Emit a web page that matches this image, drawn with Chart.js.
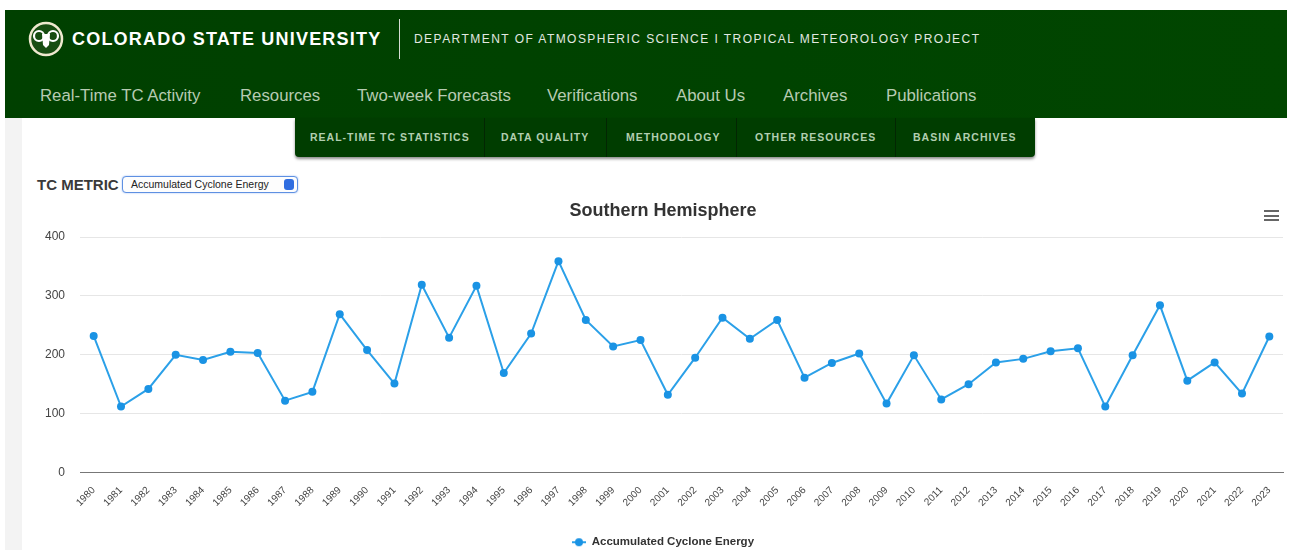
<!DOCTYPE html>
<html>
<head>
<meta charset="utf-8">
<script src="https://cdn.jsdelivr.net/npm/chart.js@4.4.0/dist/chart.umd.min.js"></script>
<style>
  body { margin: 0; width: 1292px; height: 550px; overflow: hidden; background: #fff; position: relative;
         font-family: "Liberation Sans", Arial, Helvetica, sans-serif; }
  .abs { position: absolute; white-space: nowrap; }
  #header { left: 5px; top: 10px; width: 1282px; height: 108px;
            background: linear-gradient(90deg, #004000 0%, #004300 60%, #014600 100%); }
  #strip { left: 5px; top: 118px; width: 17px; height: 432px; background: #f3f3f3; }
  .brand { left: 72px; top: 29px; font-size: 18px; line-height: 20px; font-weight: bold; color: #fff; letter-spacing: 1.2px; }
  .divider { left: 399px; top: 19px; width: 1px; height: 40px; background: #d5ddd3; }
  .dept { left: 414px; top: 32px; font-size: 12px; line-height: 14px; color: #e2e8e0; letter-spacing: 1.45px; }
  .nav { top: 86px; font-size: 16.8px; line-height: 20px; color: #b7cbb2; }
  #subnav { left: 295px; top: 118px; width: 740px; height: 39px; background: #003d00;
            border-radius: 0 0 4px 4px; box-shadow: 0 2px 3px rgba(0,0,0,0.45); }
  .sub { top: 131px; font-size: 10.5px; line-height: 13px; font-weight: bold; color: #b2ceb0; letter-spacing: 1px; }
  .sep { top: 118px; width: 1px; height: 39px; background: #022602; }
  .metric { left: 37px; top: 176px; font-size: 15px; line-height: 17px; font-weight: bold; color: #3a3a3a; }
  .select { left: 122px; top: 176px; width: 174px; height: 15px; border: 1px solid #5e90e2; border-radius: 4px;
            box-shadow: 0 0 2px #9bbcf2; background: #fdfdfd; font-size: 10.5px; line-height: 15px; color: #222; }
  .select span.txt { position: absolute; left: 8px; top: 0; }
  .select span.btn { position: absolute; right: 3px; top: 2px; width: 10px; height: 11px; border-radius: 3px; background: #2f6de0; }
  .burger { left: 1264px; top: 210px; width: 15px; }
  .burger div { height: 2px; background: #666; margin-bottom: 2.5px; }
  #wrap { left: 43px; top: 196px; width: 1247px; height: 365px; }
</style>
</head>
<body>
<div id="header" class="abs"></div>
<div id="strip" class="abs"></div>
<svg class="abs" style="left:28px;top:21px" width="36" height="36" viewBox="0 0 36 36">
  <circle cx="18" cy="18" r="16" fill="#174d12" stroke="#efe9cf" stroke-width="2.5"/>
  <circle cx="11" cy="15" r="5" fill="none" stroke="#fff" stroke-width="2.2"/>
  <circle cx="25" cy="15" r="5" fill="none" stroke="#fff" stroke-width="2.2"/>
  <path d="M14 13 L22 13 L21 24 L18 27 L15 24 Z" fill="#fff"/>
</svg>
<div class="abs brand">COLORADO STATE UNIVERSITY</div>
<div class="abs divider"></div>
<div class="abs dept">DEPARTMENT OF ATMOSPHERIC SCIENCE I TROPICAL METEOROLOGY PROJECT</div>
<div class="abs nav" style="left:40px">Real-Time TC Activity</div>
<div class="abs nav" style="left:240px">Resources</div>
<div class="abs nav" style="left:357px">Two-week Forecasts</div>
<div class="abs nav" style="left:547px">Verifications</div>
<div class="abs nav" style="left:676px">About Us</div>
<div class="abs nav" style="left:783px">Archives</div>
<div class="abs nav" style="left:886px">Publications</div>
<div id="subnav" class="abs"></div>
<div class="abs sep" style="left:484px"></div>
<div class="abs sep" style="left:606px"></div>
<div class="abs sep" style="left:736px"></div>
<div class="abs sep" style="left:895px"></div>
<div class="abs sub" style="left:310px">REAL-TIME TC STATISTICS</div>
<div class="abs sub" style="left:501px">DATA QUALITY</div>
<div class="abs sub" style="left:626px">METHODOLOGY</div>
<div class="abs sub" style="left:755px">OTHER RESOURCES</div>
<div class="abs sub" style="left:913px">BASIN ARCHIVES</div>
<div class="abs metric">TC METRIC</div>
<div class="abs select"><span class="txt">Accumulated Cyclone Energy</span><span class="btn"></span></div>
<div class="abs burger"><div></div><div></div><div></div></div>
<div id="wrap" class="abs"><canvas id="chart" width="1247" height="365"></canvas></div>

<script>
const years = ['1980', '1981', '1982', '1983', '1984', '1985', '1986', '1987', '1988', '1989',
               '1990', '1991', '1992', '1993', '1994', '1995', '1996', '1997', '1998', '1999',
               '2000', '2001', '2002', '2003', '2004', '2005', '2006', '2007', '2008', '2009',
               '2010', '2011', '2012', '2013', '2014', '2015', '2016', '2017', '2018', '2019',
               '2020', '2021', '2022', '2023'];
const aceValues = [232, 112, 142, 200, 191, 205, 203, 122, 137, 269,
                   208, 151, 319, 229, 317, 169, 236, 359, 259, 214,
                   225, 132, 195, 263, 227, 259, 161, 186, 202, 117,
                   199, 124, 150, 187, 193, 206, 211, 112, 199, 284,
                   156, 187, 134, 231];
const yTicks = [0, 100, 200, 300, 400];
const seriesName = 'Accumulated Cyclone Energy';
const chartTitle = 'Southern Hemisphere';

const lineColor = '#2ba0e8';
const dotColor = '#1a93e4';

// legend symbol: short line with a dot, like the original
const legendIcon = document.createElement('canvas');
legendIcon.width = 14;
legendIcon.height = 10;
const lc = legendIcon.getContext('2d');
lc.strokeStyle = lineColor;
lc.lineWidth = 2;
lc.beginPath(); lc.moveTo(0, 5); lc.lineTo(14, 5); lc.stroke();
lc.fillStyle = dotColor;
lc.beginPath(); lc.arc(7, 5, 4, 0, Math.PI * 2); lc.fill();

new Chart(document.getElementById('chart'), {
  type: 'line',
  data: {
    labels: years,
    datasets: [{
      label: seriesName,
      data: aceValues,
      borderColor: lineColor,
      borderWidth: 2,
      pointRadius: 4,
      pointBackgroundColor: dotColor,
      pointBorderColor: dotColor,
      pointBorderWidth: 0,
      tension: 0,
      fill: false
    }]
  },
  options: {
    responsive: false,
    animation: false,
    devicePixelRatio: 1,
    layout: { padding: { right: 7, bottom: 3 } },
    scales: {
      x: {
        offset: true,
        grid: { display: false },
        border: { display: true, color: '#777', width: 1 },
        ticks: { autoSkip: false, minRotation: 45, maxRotation: 45, padding: 4,
                 color: '#444', font: { size: 10 } },
        afterFit: s => { s.height = 54; }
      },
      y: {
        min: 0,
        max: 400,
        afterBuildTicks: s => { s.ticks = yTicks.map(v => ({ value: v })); },
        grid: { color: '#e6e6e6', drawTicks: false },
        border: { display: false },
        ticks: { padding: 15, color: '#444', font: { size: 12 } },
        afterFit: s => { s.width = 37; }
      }
    },
    plugins: {
      title: {
        display: true,
        text: chartTitle,
        color: '#333',
        font: { size: 18, weight: 'bold' },
        padding: { top: 4, bottom: 15.4 }
      },
      legend: {
        position: 'bottom',
        labels: {
          usePointStyle: true,
          pointStyle: legendIcon,
          pointStyleWidth: 14,
          color: '#333',
          font: { size: 11.5, weight: 'bold' },
          padding: 10
        }
      },
      tooltip: { enabled: false }
    }
  }
});
</script>
</body>
</html>
